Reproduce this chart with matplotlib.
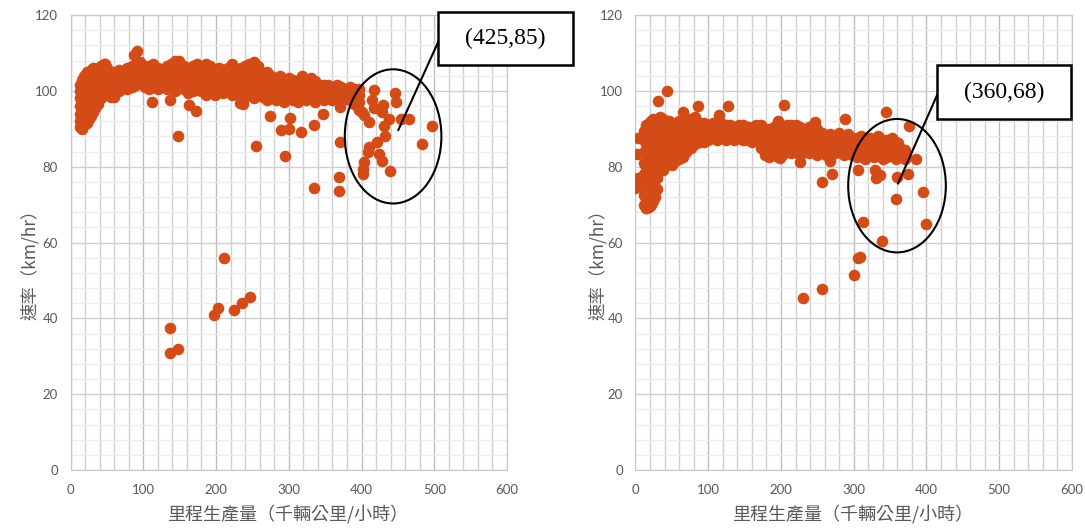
import matplotlib
matplotlib.use("Agg")
import matplotlib.pyplot as plt
from matplotlib.ticker import MultipleLocator
from matplotlib.patches import Ellipse, Rectangle

# 1. Data
# left chart: dense band, one column of y values per x position
left_cols_x = [13, 16, 19, 22, 25, 28, 31, 34, 38, 42, 46, 50, 55, 60, 66, 72, 78, 84, 90, 96,
               102, 108, 114, 120, 126, 132, 138, 144, 150, 156, 162, 168, 174, 180, 186, 192,
               198, 204, 210, 216, 222, 228, 234, 240, 246, 252, 258, 264, 270, 276, 282, 288,
               294, 300, 306, 312, 318, 324, 330, 336, 342, 348, 354, 360, 366, 372, 378, 384,
               390, 396]
left_cols_y = [
    [90.5, 92, 94, 96, 98, 100, 101.5],
    [90, 91.5, 93, 95, 97, 99, 101, 103],
    [91, 93, 95.5, 98, 100.5, 102.5, 104],
    [91.5, 94, 96, 98.5, 101, 103, 105],
    [92.5, 95, 97.5, 100, 102, 104.5],
    [93.5, 96, 98.5, 101, 103.5, 105.5],
    [94.5, 97, 99.5, 102, 104, 106],
    [95.5, 98, 100.5, 103, 105.5],
    [96.5, 99, 101.5, 104, 106],
    [98, 100, 102.5, 104.5, 106.5],
    [99, 101, 103.5, 105.5, 107],
    [99.5, 101.5, 104, 106],
    [98.5, 100.5, 102.5, 104.5],
    [99, 101, 103, 105],
    [100, 102, 104, 105.5],
    [101, 103, 105],
    [100.5, 102.5, 104.5, 106],
    [101, 103, 105, 106.5],
    [101.5, 103.5, 105.5, 107],
    [102, 104, 106, 107.5],
    [101, 103, 105, 106.5],
    [100.5, 102.5, 104.5, 106.5],
    [101, 103, 105, 107],
    [100.5, 102.5, 104.5, 106],
    [101.5, 103.5, 105.5],
    [100.5, 102.5, 104.5, 106.5],
    [101, 103, 105, 107],
    [100, 102, 104, 106, 108],
    [101, 103, 105, 107],
    [100.5, 102.5, 104.5, 106.5],
    [99.5, 101.5, 103.5, 105.5],
    [100, 102, 104, 106.5],
    [101, 103, 105, 107],
    [100, 102, 104, 106],
    [99, 101, 103, 105, 107],
    [100.5, 102.5, 104.5, 106.5],
    [99, 101, 103, 105],
    [100, 102, 104, 106],
    [99.5, 101.5, 103.5, 105.5],
    [100, 102, 104, 106],
    [99, 101, 103, 105, 107],
    [99.5, 101.5, 103.5, 105.5],
    [100, 102, 104, 106],
    [98.5, 100.5, 102.5, 104.5, 106.5],
    [99, 101, 103, 105, 107],
    [98, 100, 102, 104, 106, 107.5],
    [99, 101, 103, 105, 106.5],
    [98.5, 100.5, 102.5, 104.5],
    [97.5, 99.5, 101.5, 103.5, 105],
    [98, 100, 102, 104],
    [97.5, 99.5, 101.5, 103.5],
    [98, 100, 102, 104],
    [97, 99, 101, 103],
    [98, 100, 102, 103.5],
    [97.5, 99.5, 101.5, 103],
    [97, 99, 101, 102.5],
    [98, 100, 102, 104],
    [97.5, 99.5, 101.5, 103],
    [98, 100, 102, 103.5],
    [97, 99, 101, 102.5],
    [98, 100, 101.5],
    [97.5, 99.5, 101.5],
    [98, 100, 101.5],
    [97.5, 99.5, 101],
    [98, 100, 101.5],
    [97, 99, 101],
    [98, 100],
    [97.5, 99.5, 101],
    [96.5, 98.5, 100.5],
    [95, 97, 99, 100.5],
]
# left chart: scattered points
left_pts_x = [87, 91.5, 47, 148.7, 112, 136.4, 162.5, 172.6, 59.5, 147.9, 233.5, 236.7, 274.6,
              302, 346.4, 370.7, 300.3, 316.8, 334.6, 255, 294.3, 289, 370.3, 334.6, 368.4,
              368.4, 420.6, 432, 410.6, 409.2, 423.9, 428.8, 404, 402.3, 402.7, 439, 483.7,
              497.5, 446.3, 447.2, 417.4, 429.4, 437.2, 454.6, 464.6, 430.3, 403.3, 409.6,
              400.5, 414, 416.5, 428, 137.3, 136.3, 147.9, 211, 202.8, 197.7, 225.2, 235.2,
              246.7]
left_pts_y = [109.5, 110.5, 107, 108, 97.2, 97.6, 96.3, 94.7, 98.5, 88.1, 96.8, 96.5, 93.5,
              92.8, 93.8, 95.7, 90, 89.1, 91, 85.4, 82.9, 89.7, 86.4, 74.5, 77.2,
              73.5, 86.6, 88.2, 85.1, 84, 83.4, 81.6, 81.2, 79.3, 78, 78.8, 86,
              90.7, 99.4, 97.2, 100.3, 96.3, 92.5, 92.5, 92.5, 90.8, 93.7, 91.9,
              94.5, 97.6, 95.4, 94.5, 37.5, 30.9, 32, 56, 42.8, 41, 42.3, 44.1,
              45.7]

# right chart: dense band
right_cols_x = [12, 15, 18, 21, 24, 27, 30, 34, 38, 42, 46, 50, 55, 60, 65, 70, 76, 82, 88, 94,
                100, 106, 112, 118, 124, 130, 136, 142, 148, 154, 160, 166, 172, 178, 184, 190,
                196, 202, 208, 214, 220, 226, 232, 238, 244, 250, 256, 262, 268, 274, 280, 286,
                292, 298, 304, 310, 316, 322, 328, 334, 340, 346, 352, 358, 364, 370]
right_cols_y = [
    [70, 72.5, 75, 78, 81, 84, 87, 89.5],
    [69, 71.5, 74, 77, 80, 83, 86, 89, 91],
    [69.5, 72, 74.5, 77.5, 80.5, 83.5, 86.5, 89.5, 91.5],
    [70, 72.5, 75, 78, 81, 84, 87, 90, 92],
    [71, 73.5, 76, 79, 82, 85, 88, 90.5, 92.5],
    [72, 74.5, 77, 80, 83, 86, 89, 91.5],
    [74, 77, 80, 83, 86, 89, 92],
    [80, 83, 86, 88.5, 91, 93],
    [81, 84, 87, 90, 92.5],
    [80.5, 83, 86, 89, 91.5],
    [81, 84, 87, 90, 92],
    [80.5, 83, 86, 88.5, 91],
    [81.5, 84, 86.5, 89, 91.5],
    [82, 84.5, 87, 89.5, 92],
    [82.5, 85, 87.5, 90],
    [84, 86.5, 89, 91.5],
    [85, 87.5, 90, 92.5],
    [86, 88.5, 91, 93],
    [86.5, 89, 91.5],
    [86.5, 89, 91.5],
    [87, 89, 91],
    [87.5, 89.5, 91.5],
    [87, 89, 91],
    [87.5, 89.5, 91.5],
    [87, 89, 91],
    [87.5, 89.5, 91],
    [87, 89, 90.5],
    [87.5, 89.5, 91],
    [87, 89, 91],
    [87, 89, 90.5],
    [86.5, 88.5, 90.5],
    [87, 89, 91],
    [85, 87, 89, 91],
    [83, 85.5, 88, 90],
    [82.5, 85, 87.5, 90],
    [83, 85.5, 88, 90.5],
    [82.5, 85, 87.5, 90, 92],
    [83, 85.5, 88, 90.5],
    [84, 86.5, 89, 91],
    [83.5, 86, 88.5, 91],
    [84, 86.5, 89, 91],
    [83, 85.5, 88, 90.5],
    [84, 86.5, 89],
    [83.5, 86, 88.5, 90.5],
    [84, 86.5, 89],
    [83, 85.5, 88, 90],
    [84, 86.5, 89],
    [83, 85.5, 88],
    [84, 86.5, 88.5],
    [83.5, 86, 88],
    [84, 86.5, 89],
    [83, 85.5, 88],
    [84, 86.5, 88.5],
    [83, 85.5, 87.5],
    [82.5, 85, 87.5],
    [83, 85.5, 88],
    [82, 84.5, 87],
    [83, 85.5, 87.5],
    [82.5, 85, 87],
    [83, 85.5, 88],
    [82, 84.5, 87],
    [82.5, 85, 87],
    [83, 85, 87.5],
    [82, 84.5, 86.5],
    [83, 85],
    [82, 84.5],
]
# right chart: scattered points
right_pts_x = [42.8, 31.4, 3.9, 2.5, 0, 3.9, 65.7, 86.3, 126.6, 115, 204, 345, 287.8, 376,
               257, 269.5, 306, 329, 331, 336, 358.8, 374.7, 386, 395.3, 357.8, 226, 198.5,
               267, 246.6, 361, 367.9, 372.5, 312.9, 339.5, 400, 306, 309.3, 300, 230, 257,
               20, 14.4, 38.2]
right_pts_y = [100, 97.4, 87.5, 83.4, 74.3, 77, 94.5, 95.9, 95.9, 93.7, 96.3, 94.5, 92.5, 90.8,
               75.9, 78.1, 79.2, 79.2, 77, 77.8, 77.4, 78.1, 82, 73.4, 71.4, 81.3, 82.2,
               81.6, 91.9, 86.2, 84.4, 82.7, 65.4, 60.4, 64.9, 55.9, 56.3, 51.5, 45.3, 47.7,
               69.9, 69, 79.2]

labels = ["(425,85)", "(360,68)"]
x_title = "里程生產量（千輛公里/小時）"
y_title = "速率（km/hr）"

# 2. Helpers
def flatten(cols_x, cols_y):
    xs, ys = [], []
    for x, col in zip(cols_x, cols_y):
        for y in col:
            xs.append(x)
            ys.append(y)
    return xs, ys

dot_color = "#D34B17"
cjk = ["Noto Sans CJK TC", "DejaVu Sans"]


def style_axes(ax, ylab_x):
    ax.set_xlim(0, 600)
    ax.set_ylim(0, 120)
    ax.xaxis.set_major_locator(MultipleLocator(100))
    ax.xaxis.set_minor_locator(MultipleLocator(20))
    ax.yaxis.set_major_locator(MultipleLocator(20))
    ax.yaxis.set_minor_locator(MultipleLocator(4))
    ax.grid(which="major", axis="x", color="#bdbdbd", lw=1.0)
    ax.grid(which="minor", axis="x", color="#d0d0d0", lw=1.0)
    ax.grid(which="major", axis="y", color="#cfcfcf", lw=1.0)
    ax.grid(which="minor", axis="y", color="#ececec", lw=0.9)
    ax.set_axisbelow(True)
    for s in ax.spines.values():
        s.set_color("#c8c8c8")
    ax.tick_params(which="both", length=0, colors="#595959", labelsize=9.5)
    ax.tick_params(axis="x", pad=10)
    ax.tick_params(axis="y", pad=9)
    for lab in ax.get_xticklabels() + ax.get_yticklabels():
        lab.set_family("Lato")
    ax.set_xlabel(x_title, family=cjk, fontsize=13, color="#595959", va="center")
    ax.set_ylabel(y_title, family=cjk, fontsize=12.5, color="#595959", va="center")
    ax.xaxis.set_label_coords(0.497, -0.097)
    ax.yaxis.set_label_coords(ylab_x, 0.46)


def callout(ax, center, w, h, p0, p1, box, text):
    ax.add_patch(Ellipse(center, w, h, fill=False, ec="black", lw=1.5, zorder=4))
    ax.plot([p0[0], p1[0]], [p0[1], p1[1]], color="black", lw=1.5, zorder=4, clip_on=False)
    x0, x1, y0, y1 = box
    ax.add_patch(Rectangle((x0, y0), x1 - x0, y1 - y0, fill=True, fc="white", ec="black",
                           lw=1.8, zorder=5, clip_on=False))
    ax.text((x0 + x1) / 2, (y0 + y1) / 2, text, ha="center", va="center",
            family="Liberation Serif", fontsize=17, zorder=6)


# 3. Plot
fig = plt.figure(figsize=(10.85, 5.29), dpi=100)
ax1 = fig.add_axes([0.065, 0.1115, 0.4023, 0.860])
ax2 = fig.add_axes([0.5857, 0.1115, 0.4023, 0.860])

bx, by = flatten(left_cols_x, left_cols_y)
ax1.scatter(bx + left_pts_x, by + left_pts_y, s=70, color=dot_color, lw=0, zorder=3)
bx, by = flatten(right_cols_x, right_cols_y)
ax2.scatter(bx + right_pts_x, by + right_pts_y, s=70, color=dot_color, lw=0, zorder=3)

style_axes(ax1, -0.093)
style_axes(ax2, -0.086)

callout(ax1, (443.4, 88.0), 132.8, 35.4, (450.6, 89.7), (505.6, 113.0),
        (505.6, 690.7, 106.9, 120.9), labels[0])
callout(ax2, (359.5, 75.0), 134.2, 35.2, (361, 75.6), (414.6, 98.9),
        (414.6, 598.9, 92.5, 106.9), labels[1])

fig.savefig("out.png", dpi=100)
